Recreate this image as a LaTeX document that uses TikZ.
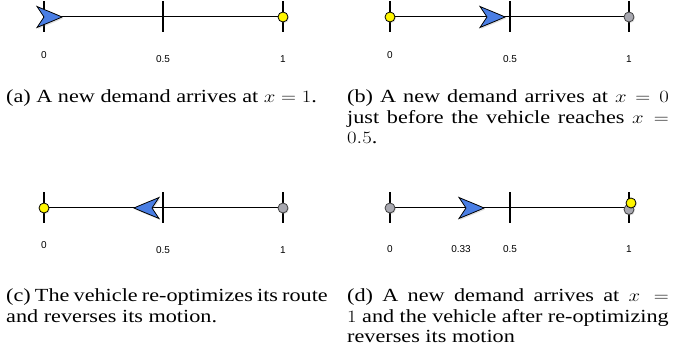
\documentclass[tikz,border=0pt]{standalone}
\usepackage{fontspec}
\usepackage{graphicx}
\setmainfont{Liberation Serif}
\newfontfamily\labfont{Liberation Sans}
\usetikzlibrary{shadows}
\definecolor{vblue}{RGB}{74,126,228}
\definecolor{dyellow}{RGB}{255,246,0}
\definecolor{dgray}{RGB}{168,168,176}
\newcommand\numline[5]{%
  \coordinate (#1L) at (#2,#5);
  \coordinate (#1M) at (#3,#5);
  \coordinate (#1R) at (#4,#5);
  \draw[tickline] (#2,#5-15.5) -- (#2,#5+15.5);
  \draw[tickline] (#3,#5-15.5) -- (#3,#5+15.5);
  \draw[tickline] (#4,#5-15.5) -- (#4,#5+15.5);
  \draw[axisline] (#1L) -- (#1R);}
\newcommand\vehshape[3]{%
  \begin{scope}[shift={(#1,#2)}, xscale=#3]
    \path[vehicle] (0,0) .. controls (-9,-4) and (-18,-7.5) .. (-25,-10.5)
      -- (-18,0) -- (-25,10.5) .. controls (-18,7.5) and (-9,4) .. (0,0) -- cycle;
  \end{scope}}
\newcommand\captext[1]{\scalebox{1.2}[1]{\parbox[t]{268pt}{#1}}}
\begin{document}
\begin{tikzpicture}[x=1pt,y=-1pt,
  axisline/.style={line width=1pt},
  tickline/.style={line width=1.2pt},
  lab/.style={font=\labfont\fontsize{10}{12}\selectfont, inner sep=0pt},
  capnode/.style={anchor=base west, inner sep=0pt, font=\fontsize{18.5}{20.5}\selectfont},
  vehicle/.style={fill=vblue, draw=black, line width=0.8pt, line join=miter,
    drop shadow={shadow xshift=1pt, shadow yshift=-1.5pt, opacity=0.25}},
  dot/.style={circle, minimum size=10pt, inner sep=0pt, line width=0.8pt,
    drop shadow={shadow xshift=0.8pt, shadow yshift=-1.2pt, opacity=0.25}},
  yel/.style={dot, fill=dyellow, draw=black},
  gry/.style={dot, fill=dgray, draw=black!75}]
\useasboundingbox (0,0) rectangle (673,358);

% ---------- (a) ----------
\numline{a}{44}{163}{283}{17}
\node[yel] (ay) at (aR) {};
\vehshape{62}{17}{1}
\node[lab] (a0) at (44,55) {0};
\node[lab] (a5) at (163,59) {0.5};
\node[lab] (a1) at (283,59) {1};
\node[capnode] (capa) at (6,103) {\captext{(a) A new demand arrives at $x=1$.}};

% ---------- (b) ----------
\numline{b}{390}{510}{629}{17}
\node[yel] (by) at (bL) {};
\node[gry] (bg) at (bR) {};
\vehshape{505}{17}{1}
\node[lab] (b0) at (390,55) {0};
\node[lab] (b5) at (510,59) {0.5};
\node[lab] (b1) at (629,59) {1};
\node[capnode] (capb) at (347,103) {\captext{(b) A new demand arrives at $x=0$\linebreak just before the vehicle reaches $x=$\linebreak $0.5$.}};

% ---------- (c) ----------
\numline{c}{44}{163}{283}{208}
\node[yel] (cy) at (cL) {};
\node[gry] (cg) at (cR) {};
\vehshape{134}{208}{-1}
\node[lab] (c0) at (44,245) {0};
\node[lab] (c5) at (163,250) {0.5};
\node[lab] (c1) at (283,250) {1};
\node[capnode] (capc) at (6,302) {\captext{(c) The vehicle re-optimizes its route\linebreak and reverses its motion.}};

% ---------- (d) ----------
\numline{d}{390}{510}{629}{208}
\node[gry] (dg0) at (dL) {};
\node[gry] (dg1) at (629,209.5) {};
\node[yel] (dy) at (631,203) {};
\vehshape{484}{208}{1}
\node[lab] (d0) at (390,249) {0};
\node[lab] (d33) at (461,249) {0.33};
\node[lab] (d5) at (510,249) {0.5};
\node[lab] (d1) at (629,249) {1};
\node[capnode] (capd) at (347,302) {\captext{(d) A new demand arrives at $x=$\linebreak $1$ and the vehicle after re-optimizing\linebreak reverses its motion}};
\end{tikzpicture}
\end{document}
